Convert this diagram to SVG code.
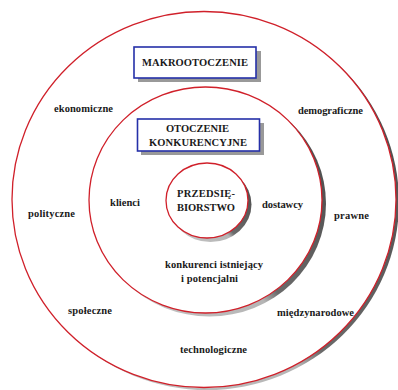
<svg xmlns="http://www.w3.org/2000/svg" width="398" height="390" viewBox="0 0 398 390">
<defs>
<linearGradient id="sh" x1="1" y1="0" x2="0" y2="1">
<stop offset="0" stop-color="#444"/>
<stop offset="0.55" stop-color="#6a6a6a"/>
<stop offset="0.6" stop-color="#b5b5b5"/>
<stop offset="1" stop-color="#c8c8c8"/>
</linearGradient>
<style>
.ring{fill:#fff;stroke:#d0202a;stroke-width:1.3}
.shadow{fill:url(#sh)}
.box{fill:#fff;stroke:#2530a8;stroke-width:1.6}
.bshadow{fill:#999}
text{font-family:"Liberation Serif","Times New Roman",serif;font-weight:bold;font-size:10.5px;fill:#1a1a1a;text-anchor:middle}
</style>
</defs>
<rect width="398" height="390" fill="#fff"/>
<g id="makrootoczenie-ring">
<ellipse class="shadow" cx="207" cy="202" rx="192" ry="188"/>
<ellipse class="ring" cx="204" cy="199.5" rx="192" ry="188"/>
</g>
<g id="otoczenie-ring">
<ellipse class="shadow" cx="209.5" cy="203.5" rx="116.5" ry="113"/>
<ellipse class="ring" cx="205.5" cy="200" rx="116.5" ry="113"/>
</g>
<g id="przedsiebiorstwo">
<ellipse class="shadow" cx="210.5" cy="204.5" rx="41" ry="37.5"/>
<ellipse class="ring" cx="207" cy="200.5" rx="41" ry="37.5"/>
<text x="206" y="197" textLength="58" lengthAdjust="spacing">PRZEDSIĘ-</text>
<text x="206" y="211" textLength="58" lengthAdjust="spacing">BIORSTWO</text>
</g>
<g id="makro-box">
<rect class="bshadow" x="138" y="51" width="123" height="31"/>
<rect class="box" x="134" y="47" width="122" height="31"/>
<text x="195" y="66" textLength="106" lengthAdjust="spacing">MAKROOTOCZENIE</text>
</g>
<g id="otoczenie-box">
<rect class="bshadow" x="141" y="123" width="123" height="32"/>
<rect class="box" x="137.5" y="119" width="122" height="32"/>
<text x="197.5" y="132" textLength="63" lengthAdjust="spacing">OTOCZENIE</text>
<text x="198" y="146" textLength="98" lengthAdjust="spacing">KONKURENCYJNE</text>
</g>
<g id="labels">
<text x="83.5" y="112" textLength="59" lengthAdjust="spacing">ekonomiczne</text>
<text x="330.5" y="114" textLength="65" lengthAdjust="spacing">demograficzne</text>
<text x="51.5" y="217" textLength="47" lengthAdjust="spacing">polityczne</text>
<text x="351.5" y="219" textLength="35" lengthAdjust="spacing">prawne</text>
<text x="125" y="206" textLength="30" lengthAdjust="spacing">klienci</text>
<text x="282.5" y="208" textLength="41" lengthAdjust="spacing">dostawcy</text>
<text x="214" y="268" textLength="98" lengthAdjust="spacing">konkurenci istniejący</text>
<text x="209.5" y="282" textLength="57" lengthAdjust="spacing">i potencjalni</text>
<text x="90" y="314" textLength="44" lengthAdjust="spacing">społeczne</text>
<text x="315.5" y="316" textLength="77" lengthAdjust="spacing">międzynarodowe</text>
<text x="213.5" y="353" textLength="67" lengthAdjust="spacing">technologiczne</text>
</g>
<g id="connectors"/>
</svg>
